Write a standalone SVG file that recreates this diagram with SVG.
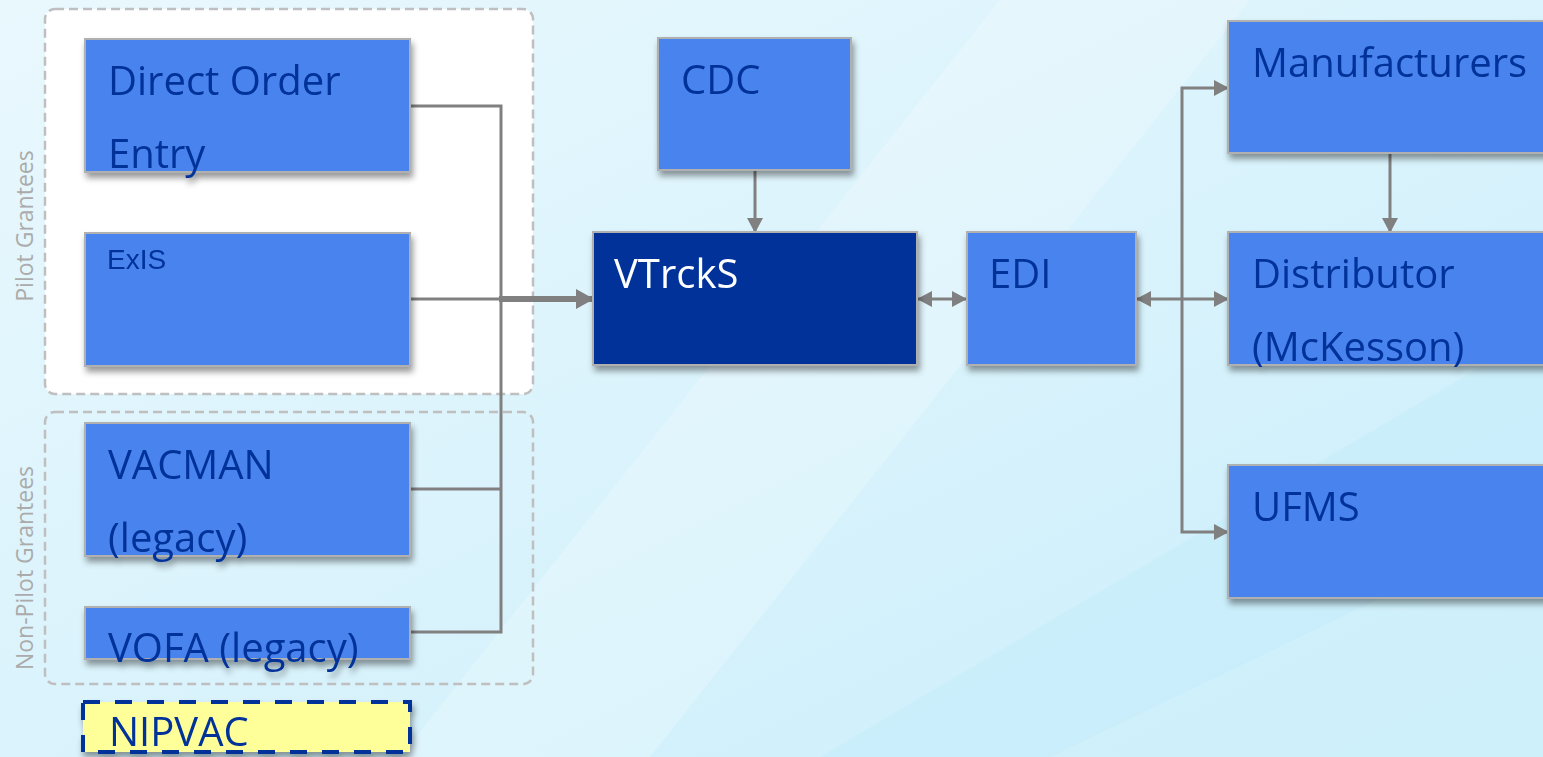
<svg xmlns="http://www.w3.org/2000/svg" width="1543" height="757" viewBox="0 0 1543 757">
  <defs>
    <linearGradient id="bg" x1="0" y1="0" x2="1" y2="1">
      <stop offset="0" stop-color="#e9f8fd"/>
      <stop offset="0.5" stop-color="#daf3fc"/>
      <stop offset="1" stop-color="#c9eefb"/>
    </linearGradient>
    <filter id="sh" x="-10%" y="-10%" width="125%" height="135%">
      <feDropShadow dx="2" dy="5" stdDeviation="3" flood-color="#000" flood-opacity="0.4"/>
    </filter>
    <marker id="ah" markerUnits="userSpaceOnUse" markerWidth="15" markerHeight="16" refX="14" refY="8" orient="auto-start-reverse">
      <path d="M0,0 L15,8 L0,16 Z" fill="#808080"/>
    </marker>
    <marker id="ahBig" markerUnits="userSpaceOnUse" markerWidth="18" markerHeight="20" refX="17" refY="10" orient="auto">
      <path d="M0,0 L18,10 L0,20 Z" fill="#808080"/>
    </marker>
    <style>
      .box { fill: #4a83ee; stroke: #b0b0b0; stroke-width: 2; }
      .dark { fill: #003399; stroke: #b0b0b0; stroke-width: 2; }
      .lbl { font-family: "Open Sans", "Noto Sans", sans-serif; font-size: 40px; fill: #003399; }
      .small { font-family: "Liberation Sans", Arial, sans-serif; font-size: 28px; fill: #003399; }
      .white { fill: #ffffff; }
      .grp { stroke: #bfbfbf; stroke-width: 2.5; stroke-dasharray: 9 5; }
      .side { font-family: "Open Sans", "Noto Sans", sans-serif; font-size: 23px; fill: #ababab; }
      .con { fill: none; stroke: #808080; stroke-width: 3; }
      .thick { stroke-width: 6; }
    </style>
  </defs>

  <!-- background -->
  <rect x="0" y="0" width="1543" height="757" fill="url(#bg)"/>
  <polygon points="400,757 1000,0 1250,0 650,757" fill="#ffffff" opacity="0.22"/>
  <polygon points="820,757 1543,330 1543,757" fill="#c3ecfa" opacity="0.45"/>
  <polygon points="1050,757 1543,520 1543,757" fill="#d6f3fc" opacity="0.5"/>

  <!-- groups -->
  <g id="pilot-grantees">
    <rect class="grp" x="45" y="9" width="488" height="385" rx="10" fill="#ffffff"/>
    <text class="side" transform="translate(33,226) rotate(-90)" text-anchor="middle">Pilot Grantees</text>
  </g>
  <g id="non-pilot-grantees">
    <rect class="grp" x="45" y="412" width="488" height="272" rx="10" fill="none"/>
    <text class="side" transform="translate(33,568) rotate(-90)" text-anchor="middle">Non-Pilot Grantees</text>
  </g>

  <!-- connectors -->
  <g id="connectors">
    <polyline class="con" points="410,106 501,106 501,632 410,632"/>
    <line class="con" x1="410" y1="299" x2="501" y2="299"/>
    <line class="con" x1="410" y1="489" x2="501" y2="489"/>
    <line class="con thick" x1="499" y1="299" x2="593" y2="299" marker-end="url(#ahBig)"/>
    <line class="con" x1="755" y1="171" x2="755" y2="232" marker-end="url(#ah)"/>
    <line class="con" x1="918" y1="299" x2="966" y2="299" marker-start="url(#ah)" marker-end="url(#ah)"/>
    <line class="con" x1="1182" y1="299" x2="1137" y2="299" marker-end="url(#ah)"/>
    <polyline class="con" points="1228,88 1182,88 1182,532 1228,532" marker-start="url(#ah)" marker-end="url(#ah)"/>
    <line class="con" x1="1182" y1="299" x2="1228" y2="299" marker-end="url(#ah)"/>
    <line class="con" x1="1390" y1="154" x2="1390" y2="232" marker-end="url(#ah)"/>
  </g>

  <!-- nodes -->
  <g id="direct-order-entry" filter="url(#sh)">
    <rect class="box" x="85" y="39" width="325" height="133"/>
    <text class="lbl" x="108" y="95">Direct Order</text>
    <text class="lbl" x="108" y="168">Entry</text>
  </g>
  <g id="exis" filter="url(#sh)">
    <rect class="box" x="85" y="233" width="325" height="133"/>
    <text class="small" x="107" y="269">ExIS</text>
  </g>
  <g id="vacman" filter="url(#sh)">
    <rect class="box" x="85" y="423" width="325" height="133"/>
    <text class="lbl" x="108" y="479">VACMAN</text>
    <text class="lbl" x="108" y="552">(legacy)</text>
  </g>
  <g id="vofa" filter="url(#sh)">
    <rect class="box" x="85" y="607" width="325" height="52"/>
    <text class="lbl" x="108" y="662">VOFA (legacy)</text>
  </g>
  <g id="nipvac" filter="url(#sh)">
    <rect x="83" y="702" width="327" height="50" fill="#ffff99" stroke="#003399" stroke-width="4" stroke-dasharray="17 15"/>
    <text class="lbl" x="109" y="746">NIPVAC</text>
  </g>
  <g id="cdc" filter="url(#sh)">
    <rect class="box" x="658" y="38" width="193" height="132"/>
    <text class="lbl" x="681" y="94">CDC</text>
  </g>
  <g id="vtrcks" filter="url(#sh)">
    <rect class="dark" x="593" y="232" width="324" height="133"/>
    <text class="lbl white" x="614" y="288">VTrckS</text>
  </g>
  <g id="edi" filter="url(#sh)">
    <rect class="box" x="967" y="232" width="169" height="133"/>
    <text class="lbl" x="989" y="288">EDI</text>
  </g>
  <g id="manufacturers" filter="url(#sh)">
    <rect class="box" x="1228" y="21" width="340" height="132"/>
    <text class="lbl" x="1252" y="77">Manufacturers</text>
  </g>
  <g id="distributor" filter="url(#sh)">
    <rect class="box" x="1228" y="232" width="340" height="133"/>
    <text class="lbl" x="1252" y="288">Distributor</text>
    <text class="lbl" x="1252" y="361">(McKesson)</text>
  </g>
  <g id="ufms" filter="url(#sh)">
    <rect class="box" x="1228" y="465" width="340" height="133"/>
    <text class="lbl" x="1252" y="521">UFMS</text>
  </g>
</svg>
